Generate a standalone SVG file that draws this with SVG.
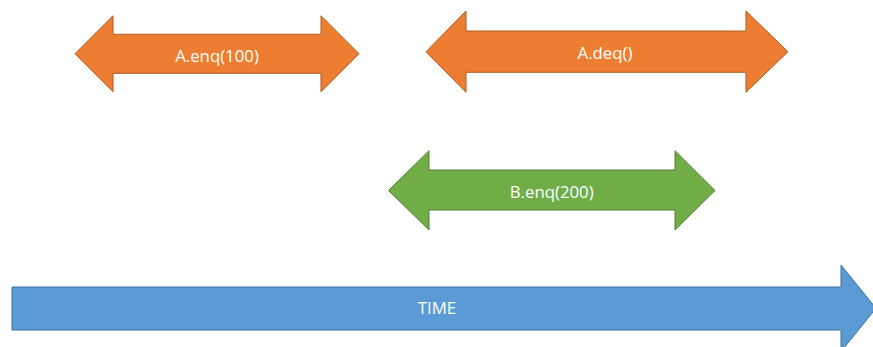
<svg xmlns="http://www.w3.org/2000/svg" width="873" height="347" viewBox="0 0 873 347">
<style>
.lbl{font-family:"Open Sans","Liberation Sans",sans-serif;font-size:16.8px;fill:#ffffff;text-anchor:middle}
.or{fill:#ED7D31;stroke:#AE5A21;stroke-width:1}
.gr{fill:#70AD47;stroke:#507E32;stroke-width:1}
.bl{fill:#5B9BD5;stroke:#41719C;stroke-width:1}
</style>
<rect width="873" height="347" fill="#ffffff"/>
<g id="time">
<polygon class="bl" points="12,287 841,287 841,265 876,308.3 841,351.6 841,330 12,330"/>
<text class="lbl" x="437" y="314.3">TIME</text>
</g>
<g id="a-enq">
<polygon class="or" points="75,53.7 113,15.7 113,34.3 321,34.3 321,15.7 359,53.7 321,91.7 321,73.3 113,73.3 113,91.7"/>
<text class="lbl" x="217" y="61.5">A.enq(100)</text>
</g>
<g id="a-deq">
<polygon class="or" points="426,51.7 466,11 466,31 746,31 746,11 788,51.7 746,92.3 746,72.3 466,72.3 466,92.3"/>
<text class="lbl" x="605" y="59.3">A.deq()</text>
</g>
<g id="b-enq">
<polygon class="gr" points="388.5,190.5 429,150.7 429,170 675,170 675,150.7 715,190.5 675,230 675,210 429,210 429,230"/>
<text class="lbl" x="551.7" y="198.3">B.enq(200)</text>
</g>
<g id="connectors"/>
</svg>
